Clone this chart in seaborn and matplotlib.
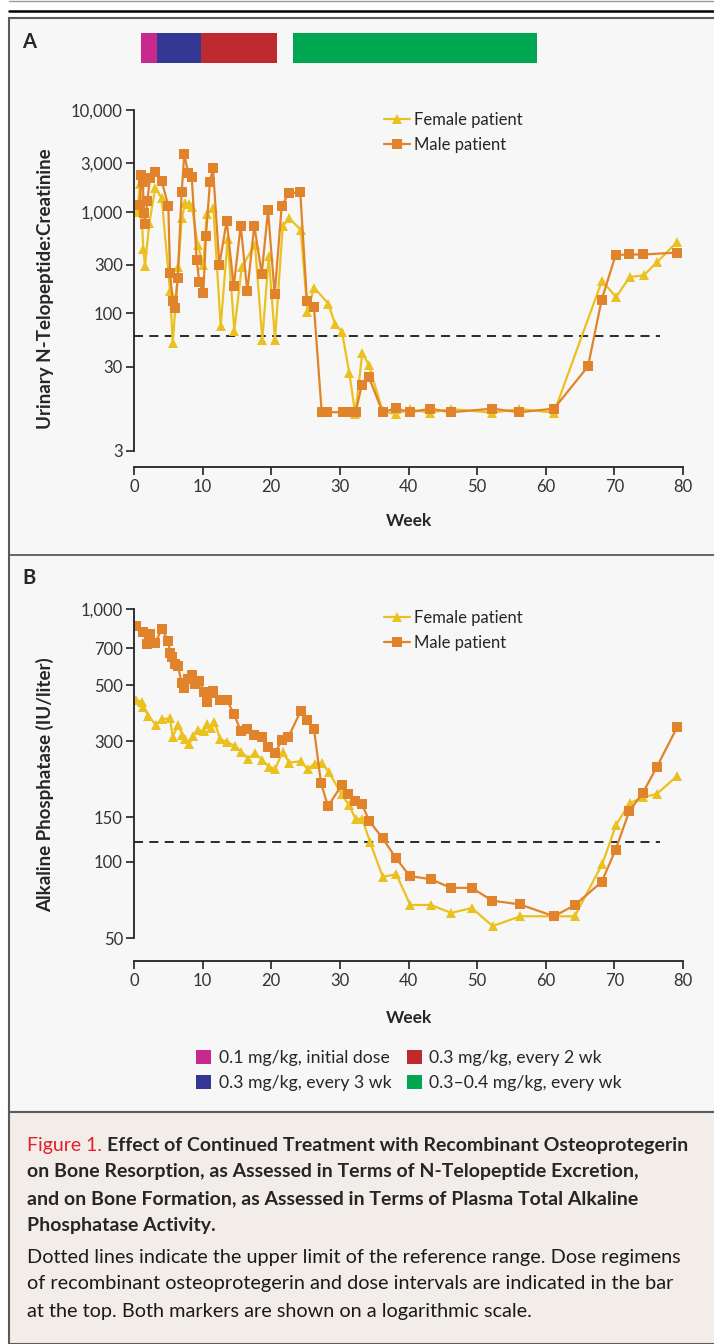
# -*- coding: utf-8 -*-
"""
Osteoprotegerin figure - NTx and alkaline phosphatase, two patients
"""

import numpy as np
import pandas as pd
import matplotlib
matplotlib.use('Agg')
import matplotlib.pyplot as plt
from matplotlib.patches import Rectangle
from matplotlib.lines import Line2D
import seaborn as sns

# ---- data ----
patients = ['Female patient', 'Male patient']

ntx_female_week = [0.48, 0.87, 1.36, 1.60, 2.23, 3.10, 4.04, 5.25, 5.64, 6.46,
                   6.95, 7.48, 8.06, 8.45, 9.28, 10.1, 10.6, 11.56, 12.63, 13.65,
                   14.62, 15.69, 17.63, 18.70, 19.63, 20.55, 21.67, 22.63, 24.29, 25.28,
                   26.23, 28.31, 29.29, 30.31, 31.37, 32.25, 33.27, 34.24, 36.24, 38.18,
                   40.15, 43.18, 46.19, 52.21, 56.15, 61.2, 68.2, 70.24, 72.23, 74.27,
                   76.26, 79.17]
ntx_female_val = [984, 1870, 428, 293, 772, 1720, 1360, 167, 51, 286,
                  859, 1220, 1180, 1120, 472, 299, 953, 1080, 75, 537,
                  68, 284, 476, 55, 367, 55, 726, 859, 666, 103,
                  180, 125, 79, 66, 26, 10.3, 41, 31, 10.9, 10.3,
                  11.4, 10.6, 11.5, 10.6, 11.5, 10.6, 210, 145, 228, 237,
                  321, 509]

ntx_male_week = [0.87, 1.06, 1.27, 1.46, 1.60, 1.94, 2.33, 3.10, 4.04, 5.0,
                 5.25, 5.64, 5.97, 6.37, 6.95, 7.33, 7.91, 8.41, 9.14, 9.52,
                 10.1, 10.49, 11.07, 11.51, 12.43, 13.51, 14.53, 15.55, 16.51, 17.53,
                 18.61, 19.53, 20.5, 21.52, 22.54, 24.23, 25.2, 26.23, 27.35, 28.1,
                 30.5, 31.4, 32.3, 33.18, 34.24, 36.24, 38.13, 40.2, 43.18, 46.19,
                 52.21, 56.15, 61.2, 66.16, 68.15, 70.19, 72.18, 74.17, 79.17]
ntx_male_val = [1160, 2300, 1970, 970, 760, 1280, 2150, 2440, 2000, 1140,
                250, 133, 112, 223, 1570, 3670, 2390, 2210, 335, 202,
                159, 584, 1960, 2690, 299, 813, 185, 732, 165, 732,
                246, 1030, 154, 1130, 1520, 1550, 133, 115, 10.7, 10.7,
                10.7, 10.7, 10.7, 19.6, 23.5, 10.7, 11.7, 10.7, 11.6, 10.7,
                11.6, 10.7, 11.6, 30.2, 137, 376, 380, 380, 397]

alp_female_week = [0.29, 1.12, 1.36, 2.08, 3.16, 4.12, 5.25, 5.64, 6.46, 7.04,
                   7.43, 8.06, 8.55, 9.37, 10.13, 10.68, 11.19, 11.69, 12.58, 13.62,
                   14.65, 15.66, 16.61, 17.63, 18.62, 19.63, 20.59, 21.64, 22.62, 24.29,
                   25.31, 26.32, 27.37, 28.39, 30.24, 31.33, 32.28, 33.27, 34.39, 36.24,
                   38.22, 40.26, 43.23, 46.24, 49.21, 52.27, 56.29, 61.2, 64.22, 68.24,
                   70.24, 72.23, 74.22, 76.21, 79.17]
alp_female_val = [437, 430, 409, 379, 349, 367, 370, 313, 349, 318,
                  305, 292, 315, 332, 330, 351, 339, 359, 306, 297,
                  288, 273, 256, 270, 254, 238, 233, 273, 247, 250,
                  233, 245, 246, 227, 185, 168, 148, 148, 120, 87.3,
                  89.4, 67.6, 67.6, 62.9, 65.8, 55.8, 61, 61, 61, 98.2,
                  140, 171, 180, 186, 219]

alp_male_week = [0.29, 1.27, 1.94, 2.33, 3.06, 4.04, 5.0, 5.25, 5.58, 5.97,
                 6.41, 6.95, 7.29, 7.91, 8.41, 8.89, 9.52, 10.2, 10.59, 11.07,
                 11.56, 12.53, 13.51, 14.57, 15.55, 16.51, 17.53, 18.61, 19.57, 20.55,
                 21.52, 22.48, 24.29, 25.25, 26.23, 27.25, 28.27, 30.24, 31.23, 32.23,
                 33.22, 34.3, 36.24, 38.13, 40.17, 43.23, 46.19, 49.21, 52.21, 56.2,
                 61.2, 64.22, 68.15, 70.19, 72.18, 74.17, 76.17, 79.17]
alp_male_val = [857, 813, 727, 794, 732, 833, 749, 668, 648, 604,
                595, 508, 489, 529, 548, 505, 518, 470, 430, 464,
                476, 437, 437, 385, 330, 336, 318, 311, 286, 269,
                303, 311, 395, 364, 335, 205, 166, 201, 185, 174,
                169, 145, 124, 104, 88, 85.5, 79, 79, 70.3, 68,
                61, 67.5, 83.4, 112, 159, 188, 237, 342]

# upper limit of reference range (dotted lines)
ntx_limit = 60
alp_limit = 120

# dose regimens (weeks)
dose_labels = ['0.1 mg/kg, initial dose', '0.3 mg/kg, every 3 wk',
               '0.3 mg/kg, every 2 wk', '0.3\u20130.4 mg/kg, every wk']
dose_start = [1.0, 3.35, 9.8, 23.2]
dose_end = [3.35, 9.8, 20.8, 58.7]
dose_colors = ['#C8298F', '#323893', '#BE2A30', '#00A651']

# ticks
ntx_ticks = [4.45, 30, 100, 300, 1000, 3000, 10000]
ntx_ticklabels = ['3', '30', '100', '300', '1,000', '3,000', '10,000']
alp_ticks = [50, 100, 150, 300, 500, 700, 1000]
alp_ticklabels = ['50', '100', '150', '300', '500', '700', '1,000']
week_ticks = [0, 10, 20, 30, 40, 50, 60, 70, 80]

palette = {'Female patient': '#EAC11F', 'Male patient': '#E1832A'}
marker_map = {'Female patient': '^', 'Male patient': 's'}

W, H = 714, 1344


def fx(x):
    return x / W


def fy(y):
    return 1 - y / H


def make_df(fw, fv, mw, mv):
    df_f = pd.DataFrame({'week': fw, 'value': fv, 'patient': patients[0]})
    df_m = pd.DataFrame({'week': mw, 'value': mv, 'patient': patients[1]})
    return pd.concat([df_f, df_m], ignore_index=True)


def draw_panel(ax, df, ylim, ticks, ticklabels, limit, ylabel, spine_low, leg_y):
    sns.lineplot(data=df, x='week', y='value', hue='patient', style='patient',
                 hue_order=patients, style_order=patients, palette=palette,
                 markers=marker_map, dashes=False, sort=False, estimator=None,
                 linewidth=1.6, markersize=7, markeredgewidth=0, ax=ax)
    ax.set_yscale('log')
    ax.set_ylim(*ylim)
    ax.set_xlim(0, 80)
    ax.set_yticks(ticks)
    ax.set_yticklabels(ticklabels)
    ax.minorticks_off()
    ax.set_xticks(week_ticks)
    ax.hlines(limit, 0, 76.6, colors='#1a1a1a', linewidth=1.3,
              linestyles=(0, (5, 3.5)), zorder=1)

    sns.despine(ax=ax)
    ax.spines['left'].set_bounds(spine_low, ticks[-1])
    for s in ['left', 'bottom']:
        ax.spines[s].set_color('#222222')
        ax.spines[s].set_linewidth(1.3)
    ax.tick_params(axis='both', length=5.5, width=1.2, color='#222222',
                   labelsize=12, labelcolor='#333333')
    ax.tick_params(axis='y', pad=2.5)
    ax.tick_params(axis='x', pad=3.5)

    ax.set_ylabel(ylabel, fontsize=13.5, fontweight='bold')
    ax.set_xlabel('Week', fontsize=12.5, fontweight='bold')
    ax.yaxis.set_label_coords(-0.145, 0.5)

    handles, labels = ax.get_legend_handles_labels()
    ax.legend(handles=handles, labels=labels, loc='upper left',
              bbox_to_anchor=(0.455, leg_y), frameon=False, fontsize=12,
              handlelength=1.6, handletextpad=0.2, labelspacing=0.55,
              borderpad=0, borderaxespad=0)


def main():
    sns.set_style('ticks', {'axes.facecolor': '#F7F7F7'})
    plt.rcParams['font.family'] = ['Lato', 'DejaVu Sans']

    fig = plt.figure(figsize=(W / 100, H / 100), dpi=100, facecolor='white')

    # background boxes / rules
    fig.add_artist(Rectangle((fx(9), fy(1112)), 1, fy(18) - fy(1112),
                             transform=fig.transFigure, facecolor='#F7F7F7',
                             edgecolor='#5a5a5a', linewidth=1.5, zorder=0))
    fig.add_artist(Rectangle((fx(9), 0), 1, fy(1112),
                             transform=fig.transFigure, facecolor='#F2EDE8',
                             edgecolor='#5a5a5a', linewidth=1.5, zorder=0))
    fig.add_artist(Line2D([fx(9), 1], [fy(555), fy(555)], transform=fig.transFigure,
                          color='#5a5a5a', linewidth=1.3))
    fig.add_artist(Line2D([fx(9), 1], [fy(10.5), fy(10.5)], transform=fig.transFigure,
                          color='black', linewidth=1.8))
    fig.add_artist(Line2D([fx(9), 1], [fy(1), fy(1)], transform=fig.transFigure,
                          color='#999999', linewidth=1.0))

    # panel A
    axA = fig.add_axes([fx(134), fy(467), fx(683) - fx(134), fy(110) - fy(467)])
    dfA = make_df(ntx_female_week, ntx_female_val, ntx_male_week, ntx_male_val)
    draw_panel(axA, dfA, (3.098, 10000), ntx_ticks, ntx_ticklabels, ntx_limit,
               'Urinary N-Telopeptide:Creatinine', ntx_ticks[0], 0.994)
    axA.xaxis.set_label_coords(0.5, -0.128)

    # dose bar above panel A
    axD = fig.add_axes([fx(134), fy(63), fx(683) - fx(134), fy(33) - fy(63)])
    widths = [e - s for s, e in zip(dose_start, dose_end)]
    axD.barh([0] * len(dose_start), widths, left=dose_start, height=1.0,
             color=dose_colors, linewidth=0)
    axD.set_xlim(0, 80)
    axD.set_ylim(-0.5, 0.5)
    axD.axis('off')

    # panel B
    axB = fig.add_axes([fx(134), fy(961), fx(683) - fx(134), fy(609) - fy(961)])
    dfB = make_df(alp_female_week, alp_female_val, alp_male_week, alp_male_val)
    draw_panel(axB, dfB, (40.6, 1000), alp_ticks, alp_ticklabels, alp_limit,
               'Alkaline Phosphatase (IU/liter)', 50, 0.998)
    axB.xaxis.set_label_coords(0.5, -0.138)

    # panel letters
    fig.text(fx(22), fy(42), 'A', fontsize=14.5, fontweight='bold', va='center')
    fig.text(fx(22), fy(578), 'B', fontsize=14.5, fontweight='bold', va='center')

    # dose legend
    dose_handles = [Rectangle((0, 0), 1, 1, facecolor=c, edgecolor='none')
                    for c in dose_colors]
    fig.legend(dose_handles, dose_labels, ncol=2, loc='upper left',
               bbox_to_anchor=(fx(196), fy(1050)), frameon=False, fontsize=12.7,
               handlelength=0.85, handleheight=0.85, handletextpad=0.45,
               columnspacing=0.85, labelspacing=0.5, borderpad=0, borderaxespad=0)

    # caption
    cap_x = fx(27)
    cap_size = 14.0
    t = fig.text(cap_x, fy(1145), 'Figure 1. ', color='#E3202B', fontsize=cap_size,
                 va='center')
    fig.canvas.draw()
    bb = t.get_window_extent()
    fig.text(bb.x1 / fig.bbox.width, fy(1145),
             'Effect of Continued Treatment with Recombinant Osteoprotegerin',
             fontsize=cap_size, fontweight='bold', va='center')
    bold_lines = ['on Bone Resorption, as Assessed in Terms of N-Telopeptide Excretion,',
                  'and on Bone Formation, as Assessed in Terms of Plasma Total Alkaline',
                  'Phosphatase Activity.']
    for i, line in enumerate(bold_lines):
        fig.text(cap_x, fy(1172 + 27 * i), line, fontsize=cap_size, fontweight='bold',
                 va='center')
    plain_lines = ['Dotted lines indicate the upper limit of the reference range. Dose regimens',
                   'of recombinant osteoprotegerin and dose intervals are indicated in the bar',
                   'at the top. Both markers are shown on a logarithmic scale.']
    for i, line in enumerate(plain_lines):
        fig.text(cap_x, fy(1257 + 27 * i), line, fontsize=14.3, va='center',
                 color='#1a1a1a')

    fig.savefig('out.png', dpi=100, facecolor=fig.get_facecolor())


if __name__ == '__main__':
    main()
